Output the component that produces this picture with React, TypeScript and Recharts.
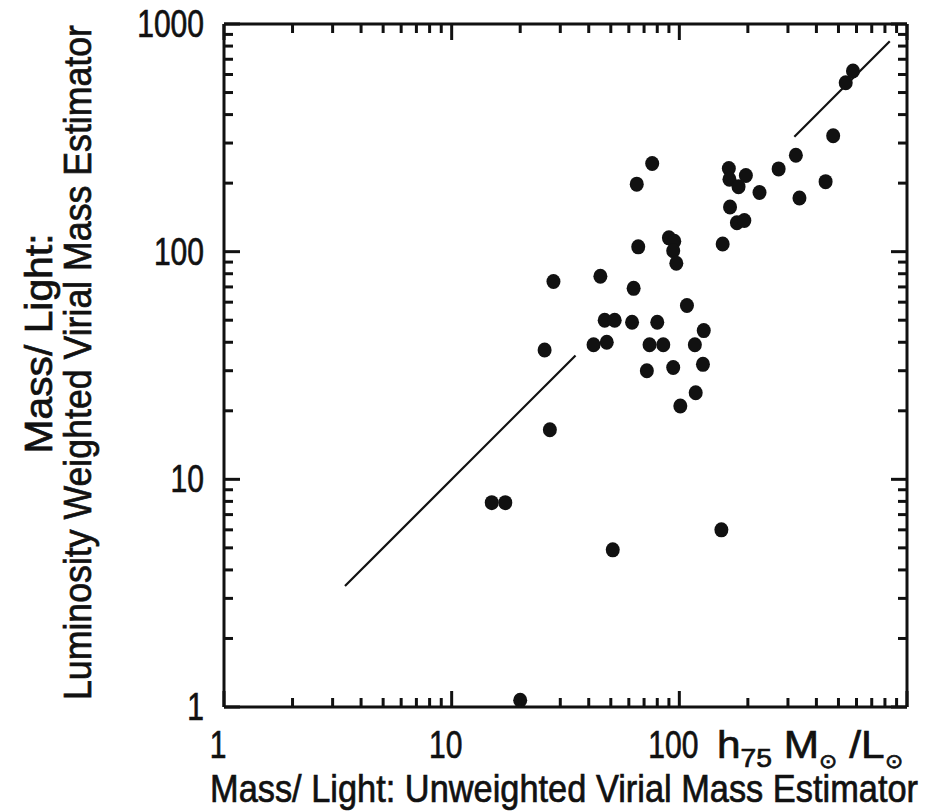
import { ScatterChart, Scatter, XAxis, YAxis } from "recharts";

// Unweighted (x) vs luminosity-weighted (y) virial M/L, h75 Msun/Lsun
const unweightedML = [
  579, 538, 474, 325, 273, 439, 337, 165, 166, 196, 182, 225, 167, 179, 193,
  155, 90, 95, 94, 97, 76, 65, 66, 28, 45, 63, 108, 47, 52, 62, 80, 128, 25.6,
  42, 48, 74, 85, 117, 127, 72, 94, 118, 101, 27, 15, 17.2, 51, 153, 20,
];
const weightedML = [
  622, 552, 323, 265, 231, 203, 172, 232, 208, 216, 193, 182, 157, 134, 137,
  108, 115, 111, 101, 89, 244, 198, 105, 74, 78, 69, 58, 50, 50, 49, 49, 45,
  37, 39, 40, 39, 39, 39, 32, 30, 31, 24, 21, 16.5, 7.9, 7.9, 4.9, 6.0, 1.07,
];

// one-to-one line, drawn in two pieces
const lowerLine = [3.4, 35];
const upperLine = [320, 840];

const logTicks = [
  1, 2, 3, 4, 5, 6, 7, 8, 9, 10, 20, 30, 40, 50, 60, 70, 80, 90, 100, 200, 300,
  400, 500, 600, 700, 800, 900, 1000,
];
const xTickLabels = ["1", "10", "100"];
const yTickLabels = ["1", "10", "100", "1000"];

const points = unweightedML.map((x, i) => ({ x, y: weightedML[i] }));
const lowerPts = lowerLine.map((v) => ({ x: v, y: v }));
const upperPts = upperLine.map((v) => ({ x: v, y: v }));

const FONT = "'Liberation Sans', Arial, sans-serif";
const INK = "#111";
const MAJOR = 16;
const MINOR = 9;
const SQUEEZE = 0.77;
const isMajor = (v: number) => [1, 10, 100, 1000].includes(v);

const BottomTick = ({ x, y, payload }: any) => {
  const v = payload.value;
  const len = isMajor(v) ? MAJOR : MINOR;
  const label = xTickLabels.includes(String(v)) ? String(v) : null;
  return (
    <g>
      <line x1={x} x2={x} y1={y} y2={y - len} stroke={INK} strokeWidth={3} />
      {label && (
        <text
          transform={`translate(${x - 6}, ${y + 51}) scale(${SQUEEZE}, 1)`}
          textAnchor="middle"
          fontSize={39}
          fontFamily={FONT}
          fill={INK}
          stroke={INK}
          strokeWidth={0.7}
        >
          {label}
        </text>
      )}
    </g>
  );
};

const TopTick = ({ x, y, payload }: any) => {
  const len = isMajor(payload.value) ? MAJOR : MINOR;
  return <line x1={x} x2={x} y1={y} y2={y + len} stroke={INK} strokeWidth={3} />;
};

const LeftTick = ({ x, y, payload }: any) => {
  const v = payload.value;
  const len = isMajor(v) ? MAJOR : MINOR;
  const label = yTickLabels.includes(String(v)) ? String(v) : null;
  return (
    <g>
      <line x1={x} x2={x + len} y1={y} y2={y} stroke={INK} strokeWidth={3} />
      {label && (
        <text
          transform={`translate(${x - 20}, ${y + 13}) scale(${SQUEEZE}, 1)`}
          textAnchor="end"
          fontSize={39}
          fontFamily={FONT}
          fill={INK}
          stroke={INK}
          strokeWidth={0.7}
        >
          {label}
        </text>
      )}
    </g>
  );
};

const RightTick = ({ x, y, payload }: any) => {
  const len = isMajor(payload.value) ? MAJOR : MINOR;
  return <line x1={x} x2={x - len} y1={y} y2={y} stroke={INK} strokeWidth={3} />;
};

const XTitle = ({ viewBox }: any) => {
  const { x, y } = viewBox;
  return (
    <g fontFamily={FONT} fill={INK} stroke={INK} strokeWidth={0.7}>
      <text x={x + 493} y={y + 51} fontSize={39} textLength={186} lengthAdjust="spacingAndGlyphs">
        h<tspan fontSize={26} dy={9}>75</tspan>
        <tspan fontSize={39} dy={-9}> M</tspan>
        <tspan fontSize={20} dy={10}>⊙</tspan>
        <tspan fontSize={39} dy={-10}> /L</tspan>
        <tspan fontSize={20} dy={10}>⊙</tspan>
      </text>
      <text
        x={x - 14}
        y={y + 95}
        fontSize={39}
        textLength={708}
        lengthAdjust="spacingAndGlyphs"
      >
        Mass/ Light: Unweighted Virial Mass Estimator
      </text>
    </g>
  );
};

const YTitle = ({ viewBox }: any) => {
  const { y, height } = viewBox;
  const cy = y + height / 2;
  return (
    <g fontFamily={FONT} fill={INK} stroke={INK} strokeWidth={0.7} fontSize={39}>
      <text
        transform={`translate(52, ${cy - 22}) rotate(-90)`}
        textAnchor="middle"
        textLength={220}
        lengthAdjust="spacingAndGlyphs"
      >
        Mass/ Light:
      </text>
      <text
        transform={`translate(91, ${cy - 3}) rotate(-90)`}
        textAnchor="middle"
        textLength={675}
        lengthAdjust="spacingAndGlyphs"
      >
        Luminosity Weighted Virial Mass Estimator
      </text>
    </g>
  );
};

const Dot = ({ cx, cy }: any) => <ellipse cx={cx} cy={cy} rx={7} ry={7.5} fill={INK} />;
const NoDot = () => null;

export default function App() {
  const axisCommon = {
    type: "number" as const,
    scale: "log" as const,
    domain: [1, 1000],
    ticks: logTicks,
    interval: 0 as const,
    allowDataOverflow: true,
    tickSize: 0,
    tickMargin: 0,
    tickLine: false,
    axisLine: { stroke: INK, strokeWidth: 3 },
  };
  return (
    <div style={{ position: "absolute", left: 0, top: 0, background: "#fff" }}>
      <ScatterChart width={927} height={812} margin={{ top: 0, right: 0, bottom: 0, left: 0 }}>
        <XAxis xAxisId="b" dataKey="x" orientation="bottom" height={105} {...axisCommon} tick={BottomTick} label={{ content: XTitle }} />
        <XAxis xAxisId="t" dataKey="x" orientation="top" height={24} {...axisCommon} tick={TopTick} />
        <YAxis yAxisId="l" dataKey="y" orientation="left" width={224} {...axisCommon} tick={LeftTick} label={{ content: YTitle }} />
        <YAxis yAxisId="r" dataKey="y" orientation="right" width={20} {...axisCommon} tick={RightTick} />
        <Scatter xAxisId="b" yAxisId="l" data={points} shape={Dot} isAnimationActive={false} />
        <Scatter xAxisId="b" yAxisId="l" data={lowerPts} line={{ stroke: INK, strokeWidth: 2.2 }} shape={NoDot} isAnimationActive={false} />
        <Scatter xAxisId="t" yAxisId="r" data={upperPts} line={{ stroke: INK, strokeWidth: 2.2 }} shape={NoDot} isAnimationActive={false} />
      </ScatterChart>
    </div>
  );
}
